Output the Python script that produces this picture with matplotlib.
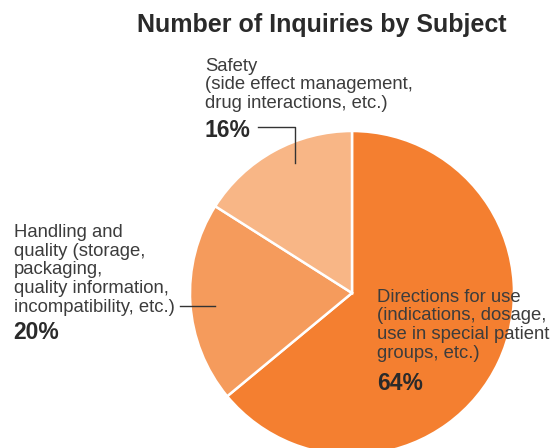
import matplotlib
matplotlib.use("Agg")
import matplotlib.pyplot as plt

W, H = 552, 448

# data
subjects = ["Directions for use", "Handling and quality", "Safety"]
shares = [64, 20, 16]
colors = ["#F47F30", "#F59B5C", "#F8B686"]

label_dirs = ["Directions for use", "(indications, dosage,",
              "use in special patient", "groups, etc.)"]
label_hand = ["Handling and", "quality (storage,", "packaging,",
              "quality information,", "incompatibility, etc.)"]
label_safe = ["Safety", "(side effect management,", "drug interactions, etc.)"]

plt.rcParams['font.family'] = ['Liberation Sans', 'DejaVu Sans']
txt = "#3c3c3c"
dark = "#2a2a2a"

fig = plt.figure(figsize=(W / 100, H / 100), dpi=100)
ax = fig.add_axes([0, 0, 1, 1])

def y(py):
    return H - py

ax.pie(shares, colors=colors, startangle=90, counterclock=False,
       center=(352, y(293)), radius=162, frame=True,
       wedgeprops=dict(edgecolor='white', linewidth=1.8))
ax.set_xlim(0, W)
ax.set_ylim(0, H)
ax.axis('off')

ax.text(322, y(32), "Number of Inquiries by Subject", ha='center',
        va='baseline', fontsize=18, fontweight='bold', color=dark)

def block(x, base, lines, step=18.7):
    for i, s in enumerate(lines):
        ax.text(x, y(base + i * step), s, ha='left', va='baseline',
                fontsize=13.3, color=txt)

# safety
block(205, 70.7, label_safe)
ax.text(204, y(137.3), f"{shares[2]}%", ha='left', va='baseline',
        fontsize=16.5, fontweight='bold', color=dark)
ax.plot([258, 295, 295], [y(127), y(127), y(163)], color="#333333", lw=1)

# handling
block(14, 237, label_hand)
ax.text(13, y(338.5), f"{shares[1]}%", ha='left', va='baseline',
        fontsize=16.5, fontweight='bold', color=dark)
ax.plot([180, 215], [y(306), y(306)], color="#333333", lw=1)

# directions
block(377, 301.7, label_dirs)
ax.text(377, y(390), f"{shares[0]}%", ha='left', va='baseline',
        fontsize=16.5, fontweight='bold', color=dark)

fig.savefig("out.png", dpi=100)
